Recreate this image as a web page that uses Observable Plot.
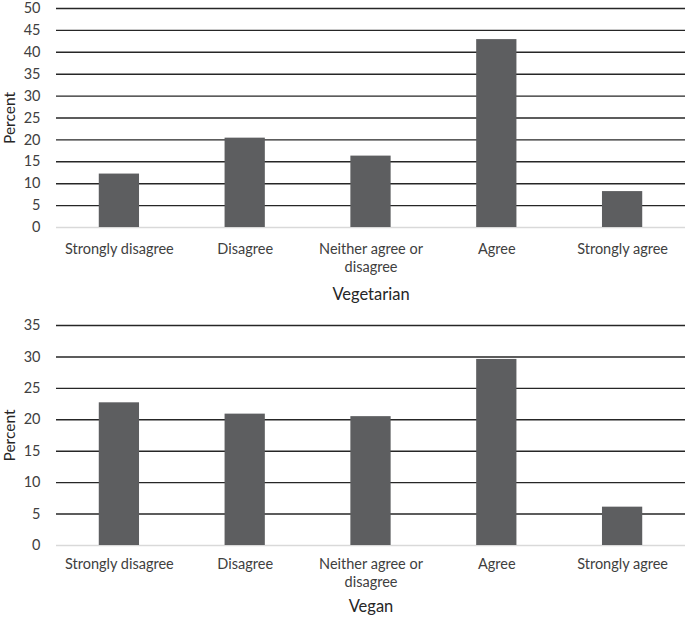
<!DOCTYPE html>
<html>
<head>
<meta charset="utf-8">
<script src="https://cdn.jsdelivr.net/npm/d3@7"></script>
<script src="https://cdn.jsdelivr.net/npm/@observablehq/plot@0.6"></script>
<style>
  html, body { margin: 0; padding: 0; background: #fff; }
  #chart svg { display: block; }
</style>
</head>
<body>
<div id="chart"></div>
<script>
const categories = ["Strongly disagree", "Disagree", "Neither agree or disagree", "Agree", "Strongly agree"];
const tickLabels = ["Strongly disagree", "Disagree", "Neither agree or\ndisagree", "Agree", "Strongly agree"];
const vegetarianValues = [12.2, 20.4, 16.3, 42.9, 8.2];
const veganValues = [22.7, 20.9, 20.5, 29.6, 6.1];
const vegetarianTicks = [0, 5, 10, 15, 20, 25, 30, 35, 40, 45, 50];
const veganTicks = [0, 5, 10, 15, 20, 25, 30, 35];

const FONT = "Lato, 'Liberation Sans', sans-serif";
const labelOf = new Map(categories.map((c, i) => [c, tickLabels[i]]));

function makeChart(title, values, ticks, yMax, opts) {
  const data = categories.map((c, i) => ({category: c, value: values[i]}));
  return Plot.plot({
    width: 685,
    height: opts.height,
    marginLeft: 56,
    marginRight: 0,
    marginTop: opts.marginTop,
    marginBottom: opts.marginBottom,
    style: {fontFamily: FONT, fontSize: "14px", color: "#404040", background: "#fff"},
    x: {domain: categories, paddingInner: 0.68, paddingOuter: 0.34, round: false, label: null},
    y: {domain: [0, yMax], label: null},
    marks: [
      Plot.ruleY(ticks.filter(t => t > 0), {stroke: "#262626", strokeWidth: 1.4}),
      Plot.ruleY([0], {stroke: "#d9d9d9", strokeWidth: 1.4}),
      Plot.barY(data, {x: "category", y: "value", fill: "#5d5e60"}),
      Plot.axisY({ticks: ticks, tickSize: 0, tickPadding: 16, label: null, fontSize: 14.5}),
      Plot.axisX({tickSize: 0, tickPadding: opts.xPad, tickFormat: d => labelOf.get(d), label: null, fontSize: 14.5, lineHeight: 1.25}),
      Plot.text([title], {frameAnchor: "bottom", dy: opts.titleDy, fontSize: 16.5, fill: "#262626"}),
      Plot.text(["Percent"], {frameAnchor: "left", textAnchor: "middle", dx: -46, rotate: -90, fontSize: 15.5, fill: "#262626"})
    ]
  });
}

const chartTop = makeChart("Vegetarian", vegetarianValues, vegetarianTicks, 50,
  {height: 310, marginTop: 8, marginBottom: 83, xPad: 14, titleDy: 72});
const chartBottom = makeChart("Vegan", veganValues, veganTicks, 35,
  {height: 310, marginTop: 15, marginBottom: 75, xPad: 11, titleDy: 66});

document.getElementById("chart").append(chartTop, chartBottom);
</script>
</body>
</html>
